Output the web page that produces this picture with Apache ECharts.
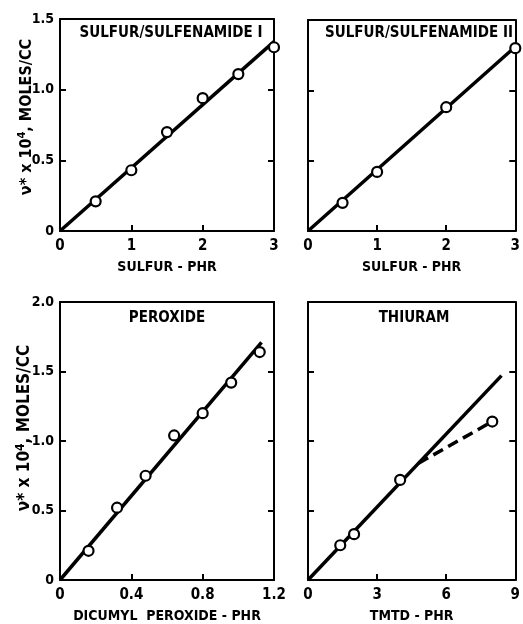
<!DOCTYPE html>
<html>
<head>
<meta charset="utf-8">
<script src="https://cdn.jsdelivr.net/npm/echarts@6/dist/echarts.min.js"></script>
<style>
  html, body {margin: 0; padding: 0; background: #fff;}
  #chart {width: 523px; height: 624px;}
</style>
</head>
<body>
<div id="chart"></div>
<script>
// panel 1: sulfur / sulfenamide I
const sulf1X = [0.5, 1, 1.5, 2, 2.5, 3]
const sulf1Y = [0.21, 0.43, 0.70, 0.94, 1.11, 1.30]
const sulf1FitX = [0, 3]
const sulf1FitY = [0, 1.34]

// panel 2: sulfur / sulfenamide II
const sulf2X = [0.5, 1, 2, 3]
const sulf2Y = [0.20, 0.42, 0.88, 1.30]
const sulf2FitX = [0, 3]
const sulf2FitY = [0, 1.31]

// panel 3: peroxide
const peroxX = [0.16, 0.32, 0.48, 0.64, 0.80, 0.96, 1.12]
const peroxY = [0.21, 0.52, 0.75, 1.04, 1.20, 1.42, 1.64]
const peroxFitX = [0, 1.13]
const peroxFitY = [0, 1.71]

// panel 4: thiuram
const thiuX = [1.4, 2, 4, 8]
const thiuY = [0.25, 0.33, 0.72, 1.14]
const thiuFitX = [0, 8.4]
const thiuFitY = [0, 1.47]
const thiuDashX = [4.8, 8]
const thiuDashY = [0.84, 1.14]

const panelTitles = ['SULFUR/SULFENAMIDE I', 'SULFUR/SULFENAMIDE II', 'PEROXIDE', 'THIURAM']
const xNames = ['SULFUR - PHR', 'SULFUR - PHR', 'DICUMYL  PEROXIDE - PHR', 'TMTD - PHR']

const FONT = "'DejaVu Sans Condensed', 'Liberation Sans Narrow', 'DejaVu Sans', sans-serif"
const pairs = (xs, ys) => xs.map((x, i) => [x, ys[i]])

const grids = [
  {left: 60, top: 19, width: 214, height: 212},
  {left: 308, top: 20, width: 212, height: 211},
  {left: 60, top: 302, width: 214, height: 280},
  {left: 308, top: 302, width: 212, height: 280}
]
const xRanges = [[3, 1], [3, 1], [1.2, 0.4], [9, 3]]
const yRanges = [[1.5, 0.5], [1.5, 0.5], [2, 0.5], [2, 0.5]]

const axisLine = {show: true, onZero: false, lineStyle: {color: '#000', width: 2}}
const axisTick = {show: true, inside: true, length: 6, lineStyle: {color: '#000', width: 2}}
const xAxes = []
const yAxes = []
grids.forEach((g, i) => {
  xAxes.push({
    gridIndex: i, type: 'value', min: 0, max: xRanges[i][0], interval: xRanges[i][1],
    axisLine, axisTick,
    axisLabel: {color: '#000', fontFamily: FONT, fontWeight: 'bold', fontSize: 15, margin: 8,
      formatter: v => (i === 2 && v !== 0) ? v.toFixed(1) : String(v)},
    splitLine: {show: false},
    name: xNames[i], nameLocation: 'middle', nameGap: 29,
    nameTextStyle: {color: '#000', fontFamily: FONT, fontWeight: 'bold', fontSize: 14}
  })
  xAxes.push({
    gridIndex: i, type: 'value', position: 'top', min: 0, max: xRanges[i][0],
    axisLine, axisTick: {show: false},
    axisLabel: {show: false}, splitLine: {show: false}
  })
  yAxes.push({
    gridIndex: i, type: 'value', min: 0, max: yRanges[i][0], interval: yRanges[i][1],
    axisLine, axisTick,
    axisLabel: {show: i % 2 === 0, color: '#000', fontFamily: FONT, fontWeight: 'bold', fontSize: 14, margin: 6,
      formatter: v => v === 0 ? '0' : v.toFixed(1)},
    splitLine: {show: false}
  })
  yAxes.push({
    gridIndex: i, type: 'value', position: 'right', min: 0, max: yRanges[i][0], interval: yRanges[i][1],
    axisLine, axisTick,
    axisLabel: {show: false}, splitLine: {show: false}
  })
})

const fitSeries = (i, xs, ys, dashed) => ({
  type: 'line', xAxisIndex: i * 2, yAxisIndex: i * 2, data: pairs(xs, ys),
  symbol: 'none', silent: true, z: 2,
  lineStyle: {color: '#000', width: 3.5, type: dashed ? [11, 6] : 'solid'}
})
const pointSeries = (i, xs, ys) => ({
  type: 'scatter', xAxisIndex: i * 2, yAxisIndex: i * 2, data: pairs(xs, ys),
  symbol: 'circle', symbolSize: 10, z: 3, clip: false,
  itemStyle: {color: '#fff', opacity: 1, borderColor: '#000', borderWidth: 2.2}
})

const series = [
  fitSeries(0, sulf1FitX, sulf1FitY), pointSeries(0, sulf1X, sulf1Y),
  fitSeries(1, sulf2FitX, sulf2FitY), pointSeries(1, sulf2X, sulf2Y),
  fitSeries(2, peroxFitX, peroxFitY), pointSeries(2, peroxX, peroxY),
  fitSeries(3, thiuFitX, thiuFitY), fitSeries(3, thiuDashX, thiuDashY, true),
  pointSeries(3, thiuX, thiuY)
]

const titlePos = [[171, 33], [419, 33], [167, 318], [414, 318]]
const yTitles = [{x: 26, y: 117, size: 16}, {x: 24, y: 428, size: 17}]
const graphic = titlePos.map((p, i) => ({
  type: 'text', x: p[0], y: p[1], z: 10,
  style: {text: panelTitles[i], fill: '#000', font: `bold 15px ${FONT}`,
    align: 'center', verticalAlign: 'middle'}
})).concat(yTitles.map(t => ({
  type: 'text', x: t.x, y: t.y, rotation: Math.PI / 2, z: 10,
  style: {
    text: '{a|ν* x 10}{s|4}{a|, MOLES/CC}',
    align: 'center', verticalAlign: 'middle',
    rich: {
      a: {fill: '#000', font: `bold ${t.size}px ${FONT}`, verticalAlign: 'bottom'},
      s: {fill: '#000', font: `bold ${Math.round(t.size * 0.7)}px ${FONT}`, verticalAlign: 'top', padding: [0, 0, 7, 0]}
    }
  }
})))

const chart = echarts.init(document.getElementById('chart'))
chart.setOption({
  backgroundColor: '#fff',
  animation: false,
  grid: grids,
  xAxis: xAxes,
  yAxis: yAxes,
  series,
  graphic
})
</script>
</body>
</html>
